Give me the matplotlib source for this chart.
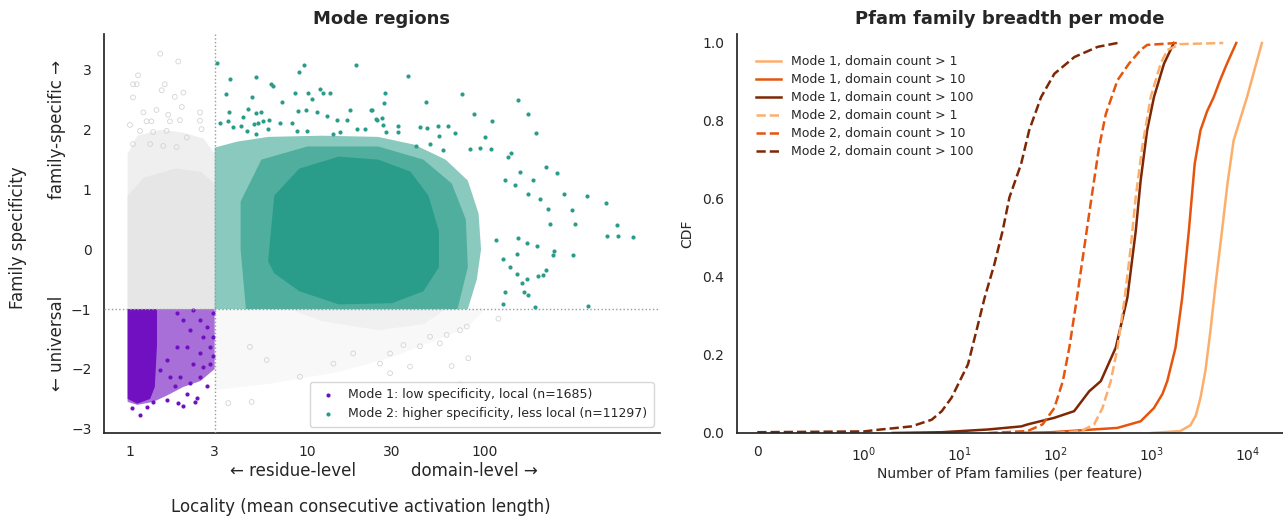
import matplotlib.pyplot as plt
from matplotlib.ticker import FixedLocator, NullLocator

plt.rcParams.update({
    "font.family": "DejaVu Sans",
    "text.color": ".15",
    "axes.labelcolor": ".15",
    "axes.edgecolor": ".15",
    "axes.linewidth": 1.25,
    "xtick.color": ".15",
    "ytick.color": ".15",
    "xtick.major.size": 0,
    "ytick.major.size": 0,
    "xtick.minor.size": 0,
    "ytick.minor.size": 0,
})

TEAL = "#2a9d8a"
PURPLE = "#7010c0"
GREY_EDGE = "#d4d4d4"

# ---------------- left panel: mode regions ----------------
# dense parts of each cloud, outlined as (locality, specificity)
grey_band_x = [0.97, 3.0, 3.0, 2.6, 2.0, 1.5, 1.1, 0.97]
grey_band_y = [-1.0, -1.0, 1.6, 1.85, 1.95, 2.0, 1.9, 1.6]
grey_core_x = [0.97, 3.0, 3.0, 2.5, 1.8, 1.2, 0.97]
grey_core_y = [-1.0, -1.0, 1.1, 1.3, 1.35, 1.2, 0.9]
grey_low_x = [3.0, 100, 80, 55, 30, 15, 6, 3.0]
grey_low_y = [-1.0, -1.0, -1.3, -1.5, -1.8, -2.05, -2.25, -2.35]
grey_lowcore_x = [8, 60, 45, 25, 12]
grey_lowcore_y = [-1.0, -1.0, -1.25, -1.35, -1.2]

purple_outer_x = [0.97, 3.0, 3.0, 2.5, 2.0, 1.6, 1.35, 1.1, 0.97]
purple_outer_y = [-1.0, -1.0, -2.0, -2.2, -2.3, -2.45, -2.55, -2.6, -2.55]
purple_core_x = [0.97, 1.42, 1.42, 1.38, 1.3, 1.1, 0.97]
purple_core_y = [-1.0, -1.0, -1.6, -2.3, -2.5, -2.58, -2.5]

teal_outer_x = [3.0, 80, 90, 95, 92, 80, 60, 40, 25, 12, 6, 4, 3.0]
teal_outer_y = [-1.0, -1.0, -0.5, 0.0, 0.6, 1.15, 1.5, 1.75, 1.88, 1.9, 1.88, 1.8, 1.7]
teal_mid_x = [4.5, 70, 80, 78, 65, 45, 25, 10, 5.5, 4.2, 4.2]
teal_mid_y = [-1.0, -1.0, -0.3, 0.5, 1.1, 1.5, 1.72, 1.72, 1.5, 0.8, 0.0]
teal_core_x = [6.0, 6.5, 9, 15, 25, 38, 48, 55, 55, 45, 30, 15, 9, 6.5]
teal_core_y = [-0.2, 0.9, 1.35, 1.55, 1.5, 1.3, 0.9, 0.3, -0.3, -0.7, -0.9, -0.92, -0.7, -0.4]

# individual points outside the dense parts
teal_x = [3.08, 3.66, 5.1, 6.2, 6.4, 9.55, 9.0, 18.7, 3.46, 4.89, 7.16, 8.5, 10.1,
          11.8, 12.2, 13.4, 10.6, 3.61, 4.64, 5.1, 5.47, 4.35, 3.21, 3.58, 3.79,
          4.2, 5.0, 5.28, 5.64, 6.1, 7.0, 8.15, 8.87, 9.8, 11.3, 12.8, 14.7, 16.6,
          17.4, 22.7, 18.9, 21.1, 24.5, 4.54, 5.13, 6.0, 8.7, 9.9, 14.0, 15.3,
          37.0, 27.3, 27.0, 46.3, 74.5, 154, 175, 194, 23.0, 24.2, 26.4, 26.7,
          32.5, 32.5, 43.0, 47.3, 54.6, 61.6, 67.8, 87.1, 109, 100, 55.1, 27.6,
          40.9, 49, 58.2, 82.3, 93.7, 108, 134, 141, 221, 254, 187, 157, 280,
          374, 481, 552, 321, 232, 308, 227, 204, 175, 148, 130,
          564, 485, 685, 312, 246, 243, 196, 173, 154, 222, 211, 200, 172, 161,
          166, 174, 151, 130, 127, 191, 382, 138, 127, 116, 151]
teal_y = [3.12, 2.84, 2.88, 2.76, 2.73, 3.08, 2.96, 3.08, 2.59, 2.54, 2.47, 2.62, 2.62,
          2.68, 2.61, 2.61, 2.51, 2.30, 2.34, 2.28, 2.30, 2.22, 2.12, 2.15, 2.05,
          2.06, 2.09, 2.12, 2.14, 2.16, 2.12, 2.12, 2.32, 2.33, 2.30, 2.23, 2.16, 2.16,
          2.33, 2.33, 2.01, 2.02, 2.16, 1.98, 1.93, 2.01, 1.98, 1.98, 1.93, 1.96,
          2.90, 2.61, 2.44, 2.46, 2.59, 2.49, 2.26, 1.94, 2.33, 2.18, 2.20, 2.08,
          2.07, 1.97, 2.05, 2.03, 2.07, 2.07, 1.94, 2.26, 2.14, 1.88, 1.90, 1.97,
          1.72, 1.76, 1.66, 1.68, 1.69, 1.67, 1.55, 1.61, 1.37, 1.28, 1.16, 1.29, 0.92,
          0.90, 0.77, 0.40, 0.42, 0.43, 0.65, 0.68, 0.85, 0.93, 1.07, 1.16,
          0.23, 0.22, 0.21, -0.10, -0.02, -0.09, 0.05, 0.11, 0.19, -0.34, -0.43, -0.45, -0.49, -0.56,
          -0.71, -0.77, -0.41, -0.71, -0.91, -0.97, -0.95, -0.29, -0.16, 0.15, -0.07]

purple_x = [1.03, 1.14, 1.24, 1.35, 1.61, 1.87, 1.98, 2.38, 2.32, 2.70, 2.09, 2.18,
            2.48, 2.59, 2.82, 2.95, 1.79, 1.68, 1.91, 2.27, 2.48, 2.82, 2.95, 2.70,
            2.48, 2.0, 2.18, 1.83, 1.61, 1.48, 2.09, 2.59, 2.95, 2.27, 1.83]
purple_y = [-2.66, -2.77, -2.63, -2.55, -2.52, -2.57, -2.62, -2.49, -2.56, -2.29, -2.41, -2.24,
            -2.13, -1.96, -1.91, -1.79, -2.29, -2.13, -2.13, -1.91, -1.74, -1.63, -1.46, -1.30,
            -1.18, -1.18, -1.35, -1.63, -1.85, -2.02, -1.63, -1.46, -1.07, -1.02, -1.07]

grey_x = [1.48, 1.87, 1.11, 1.04, 1.09, 1.57, 1.51, 1.04, 2.0, 1.79, 1.96, 1.41, 1.19,
          1.64, 2.48, 1.24, 1.32, 1.68, 1.91, 1.0, 2.48, 2.53, 1.14, 1.35, 1.61, 2.09,
          1.04, 1.30, 1.54, 1.83,
          119, 78.9, 72.3, 60.8, 49, 43, 34.7, 55.7, 29.2, 64.9, 80.5, 72.3, 37.8,
          25.6, 29.2, 3.58, 4.85, 9.07, 14, 18.1, 5.89, 4.74]
grey_y = [3.27, 3.14, 2.91, 2.76, 2.76, 2.76, 2.66, 2.54, 2.62, 2.55, 2.38, 2.33, 2.29,
          2.25, 2.29, 2.14, 2.14, 2.14, 2.16, 2.08, 2.15, 2.01, 1.98, 1.96, 1.98, 1.87,
          1.76, 1.76, 1.73, 1.71,
          -1.16, -1.29, -1.35, -1.43, -1.46, -1.62, -1.60, -1.57, -1.74, -1.95, -1.82, -2.26, -1.96,
          -1.91, -2.07, -2.57, -2.55, -2.13, -1.91, -1.74, -1.85, -1.63]

loc_ticks = [1, 3, 10, 30, 100]
spec_ticks = [-3, -2, -1, 0, 1, 2, 3]
mode_labels = ["Mode 1: low specificity, local (n=1685)",
               "Mode 2: higher specificity, less local (n=11297)"]

# ---------------- right panel: CDFs ----------------
m1_gt1_x = [1000, 2000, 2550, 2900, 3240, 3650, 4110, 4700, 5430, 6200, 7180, 9900, 14150]
m1_gt1_y = [0.0, 0.005, 0.02, 0.045, 0.09, 0.16, 0.261, 0.39, 0.518, 0.64, 0.75, 0.861, 1.0]
m1_gt10_x = [40, 90, 440, 770, 1060, 1300, 1460, 1780, 2090, 2450, 2820, 3240, 3800, 4450,
             5200, 6120, 7650]
m1_gt10_y = [0.0, 0.002, 0.013, 0.03, 0.064, 0.1, 0.133, 0.219, 0.347, 0.518, 0.69, 0.776,
             0.825, 0.861, 0.905, 0.947, 1.0]
m1_gt100_x = [2, 6.5, 19.7, 44, 51, 97, 156, 224, 296, 424, 560, 685, 770, 900, 1060, 1350, 1710]
m1_gt100_y = [0.0, 0.002, 0.009, 0.017, 0.022, 0.039, 0.056, 0.107, 0.133, 0.219, 0.347,
              0.518, 0.647, 0.776, 0.861, 0.947, 1.0]
m2_gt1_x = [100, 184, 252, 308, 376, 442, 526, 607, 684, 800, 980, 1245, 1460, 2000, 5600]
m2_gt1_y = [0.0, 0.005, 0.022, 0.064, 0.133, 0.219, 0.347, 0.476, 0.604, 0.733, 0.861,
            0.947, 0.982, 0.997, 1.0]
m2_gt10_x = [20, 51, 73, 97, 119, 139, 167, 199, 237, 284, 334, 441, 582, 770, 900, 1850]
m2_gt10_y = [0.0, 0.005, 0.022, 0.064, 0.133, 0.219, 0.347, 0.476, 0.604, 0.733, 0.818,
             0.904, 0.947, 0.982, 0.995, 1.0]
m2_gt100_x = [0, 1, 1.5, 2, 3.15, 5.1, 6.5, 8.2, 10, 12.2, 14.9, 18.2, 23, 28, 33, 43.7,
              53, 70.5, 97, 157, 274, 442]
m2_gt100_y = [0.002, 0.004, 0.009, 0.012, 0.017, 0.034, 0.056, 0.09, 0.133, 0.176, 0.261,
              0.347, 0.433, 0.518, 0.604, 0.69, 0.776, 0.861, 0.921, 0.964, 0.99, 1.0]

cdf_series = [
    (m1_gt1_x, m1_gt1_y, "Mode 1, domain count > 1"),
    (m1_gt10_x, m1_gt10_y, "Mode 1, domain count > 10"),
    (m1_gt100_x, m1_gt100_y, "Mode 1, domain count > 100"),
    (m2_gt1_x, m2_gt1_y, "Mode 2, domain count > 1"),
    (m2_gt10_x, m2_gt10_y, "Mode 2, domain count > 10"),
    (m2_gt100_x, m2_gt100_y, "Mode 2, domain count > 100"),
]
oranges = ["#fdae6b", "#e6550d", "#7f2704"]
cdf_ticks = [0, 1, 10, 100, 1000, 10000]
cdf_ticklabels = ["0"] + [r"$\mathdefault{10^{%d}}$" % k for k in range(5)]
cdf_yticks = [0.0, 0.2, 0.4, 0.6, 0.8, 1.0]

W, H = 1283, 517
fig = plt.figure(figsize=(W / 100, H / 100), dpi=100)
ax1 = fig.add_axes([104 / W, (H - 433) / H, 556 / W, 399 / H])
ax2 = fig.add_axes([737 / W, (H - 433) / H, 546 / W, 399 / H])

# left panel
ax1.set_xscale("log")
ax1.fill(grey_band_x, grey_band_y, color="#efefef", lw=0, zorder=1)
ax1.fill(grey_core_x, grey_core_y, color="#e6e6e6", lw=0, zorder=1)
ax1.fill(grey_low_x, grey_low_y, color="#f8f8f8", lw=0, zorder=1)
ax1.fill(grey_lowcore_x, grey_lowcore_y, color="#f0f0f0", lw=0, zorder=1)
ax1.scatter(grey_x, grey_y, s=12, facecolors="none", edgecolors=GREY_EDGE, lw=0.6, zorder=2)

ax1.fill(purple_outer_x, purple_outer_y, color=PURPLE, alpha=0.6, lw=0, zorder=3)
ax1.fill(purple_core_x, purple_core_y, color=PURPLE, lw=0, zorder=3)
ax1.scatter(purple_x, purple_y, s=9, color=PURPLE, lw=0, zorder=4, label=mode_labels[0])

ax1.fill(teal_outer_x, teal_outer_y, color=TEAL, alpha=0.55, lw=0, zorder=3)
ax1.fill(teal_mid_x, teal_mid_y, color=TEAL, alpha=0.6, lw=0, zorder=3)
ax1.fill(teal_core_x, teal_core_y, color=TEAL, lw=0, zorder=3)
ax1.scatter(teal_x, teal_y, s=9, color=TEAL, lw=0, zorder=4, label=mode_labels[1])

ax1.axvline(3, color="#999999", ls=":", lw=1, zorder=5)
ax1.axhline(-1, color="#999999", ls=":", lw=1, zorder=5)

ax1.set_xlim(0.714, 968)
ax1.set_ylim(-3.07, 3.6)
ax1.xaxis.set_major_locator(FixedLocator(loc_ticks))
ax1.xaxis.set_minor_locator(NullLocator())
ax1.set_xticklabels([str(t) for t in loc_ticks])
ax1.set_yticks(spec_ticks)
ax1.tick_params(labelsize=10, pad=9)
for s in ("top", "right"):
    ax1.spines[s].set_visible(False)
ax1.set_title("Mode regions", fontsize=13, fontweight="bold", pad=7)
ax1.text(0.34, -0.095, "\u2190 residue-level", transform=ax1.transAxes,
         ha="center", va="center", fontsize=12)
ax1.text(0.667, -0.095, "domain-level \u2192", transform=ax1.transAxes,
         ha="center", va="center", fontsize=12)
ax1.text(0.462, -0.185, "Locality (mean consecutive activation length)",
         transform=ax1.transAxes, ha="center", va="center", fontsize=12)
ax1.text(-0.155, 0.49, "Family specificity", transform=ax1.transAxes, rotation=90,
         ha="center", va="center", fontsize=12)
ax1.text(-0.085, 0.225, "\u2190 universal", transform=ax1.transAxes, rotation=90,
         ha="center", va="center", fontsize=12)
ax1.text(-0.085, 0.76, "family-specific \u2192", transform=ax1.transAxes, rotation=90,
         ha="center", va="center", fontsize=12)
ax1.legend(loc="lower right", fontsize=9, frameon=True, edgecolor="#cccccc",
           handletextpad=0.6, borderpad=0.5)

# right panel
ax2.set_xscale("symlog", linthresh=1)
for i, (xs, ys, lab) in enumerate(cdf_series):
    ls = "-" if i < 3 else "--"
    ax2.plot(xs, ys, color=oranges[i % 3], ls=ls, lw=1.8, label=lab)
ax2.set_xlim(-0.19, 23500)
ax2.set_ylim(0, 1.023)
ax2.xaxis.set_major_locator(FixedLocator(cdf_ticks))
ax2.xaxis.set_minor_locator(NullLocator())
ax2.set_xticklabels(cdf_ticklabels)
ax2.set_yticks(cdf_yticks)
ax2.set_yticklabels(["%.1f" % v for v in cdf_yticks])
ax2.tick_params(labelsize=10, pad=9)
for s in ("top", "right"):
    ax2.spines[s].set_visible(False)
ax2.set_title("Pfam family breadth per mode", fontsize=13, fontweight="bold", pad=7)
ax2.set_xlabel("Number of Pfam families (per feature)", fontsize=10, labelpad=2)
ax2.set_ylabel("CDF", fontsize=10, labelpad=6)
ax2.legend(loc="upper left", fontsize=9, frameon=False, labelspacing=0.4,
           bbox_to_anchor=(0.015, 0.975))

fig.savefig("out.png", dpi=100)
